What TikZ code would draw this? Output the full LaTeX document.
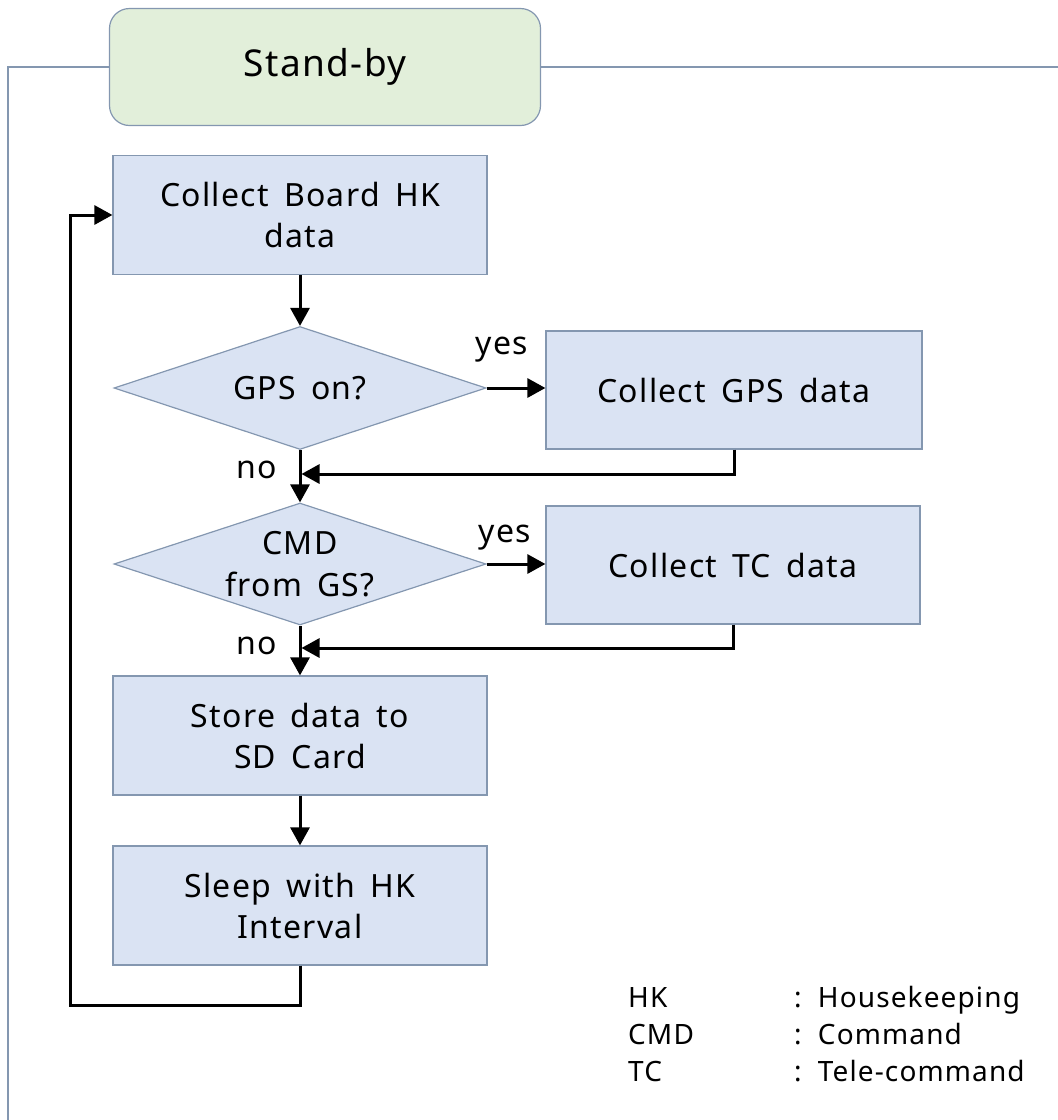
\documentclass[tikz,border=0pt]{standalone}
\usepackage{fontspec}
\setmainfont{Noto Sans}[LetterSpace=4,WordSpace=1.6]
\usetikzlibrary{shapes.geometric,arrows.meta}
\definecolor{boxfill}{HTML}{DAE3F3}
\definecolor{boxline}{HTML}{8497B0}
\definecolor{sbfill}{HTML}{E2EFDA}
\definecolor{frameline}{HTML}{8497B0}
\begin{document}
\begin{tikzpicture}[x=1pt,y=-1pt,
  proc/.style={rectangle, draw=boxline, fill=boxfill, line width=1.2pt, minimum width=374pt, minimum height=119pt, inner sep=0pt, align=center, font=\fontsize{32}{41}\selectfont},
  dec/.style={diamond, aspect=3, draw=boxline, fill=boxfill, line width=1.2pt, minimum width=372pt, minimum height=123pt, inner sep=0pt, align=center, font=\fontsize{32}{42}\selectfont},
  sbbox/.style={rectangle, rounded corners=20pt, draw=boxline, fill=sbfill, line width=1.2pt, minimum width=431pt, minimum height=117pt, inner sep=0pt, font=\fontsize{37}{44}\selectfont},
  conn/.style={line width=3pt, -{Triangle[length=18pt,width=19pt]}},
  framestyle/.style={draw=frameline, line width=1.2pt},
  lbl/.style={font=\fontsize{32}{36}\selectfont, inner sep=0pt},
  leg/.style={font=\fontsize{28}{32}\selectfont, anchor=base west, inner sep=0pt}]
\useasboundingbox (0,0) rectangle (1058,1120);

% stand-by header and frame
\node[sbbox] (sb) at (325,67) {Stand-by};
\coordinate (fl) at (8,67);
\coordinate (fb) at (8,1120);
\coordinate (fr) at (1058,67);
\draw[framestyle] (sb.west) -- (fl) -- (fb);
\draw[framestyle] (sb.east) -- (fr);

% process nodes
\node[proc] (board) at (300,215) {Collect Board HK\\data};
\node[dec]  (gps)   at (300,388) {\makebox[0pt]{GPS on?}};
\node[proc, minimum width=376pt, minimum height=118pt] (gpsbox) at (734,390) {Collect GPS data};
\node[dec, minimum height=122pt]  (cmd)   at (300,564) {\makebox[0pt]{CMD}\\\makebox[0pt]{from GS?}};
\node[proc, minimum width=374pt, minimum height=118pt] (tcbox) at (733,565) {Collect TC data};
\node[proc] (store) at (300,735.5) {Store data to\\SD Card};
\node[proc] (sleep) at (300,905.5) {Sleep with HK\\Interval};

% helper coordinates
\coordinate (j1) at (301.5,474);
\coordinate (j2) at (301.5,648);
\coordinate (lb) at (70,1005);

% connectors
\draw[conn] (board.south) -- (gps.north);
\draw[conn] (gps.east) -- (gpsbox.west |- gps.east);
\draw[conn] (gps.south) -- (cmd.north);
\draw[conn] (gpsbox.south) |- (j1);
\draw[conn] (cmd.east) -- (tcbox.west |- cmd.east);
\draw[conn] (cmd.south) -- (store.north);
\draw[conn] (tcbox.south) |- (j2);
\draw[conn] (store.south) -- (sleep.north);
\draw[conn] (sleep.south) |- (lb) |- (board.west);

% labels
\node[lbl] (y1) at (502,350) {yes};
\node[lbl] (n1) at (257,470) {no};
\node[lbl] (y2) at (505,538) {yes};
\node[lbl] (n2) at (257,646) {no};

% legend
\node[leg] (k1) at (628,1007) {HK};
\node[leg] (k2) at (628,1044) {CMD};
\node[leg] (k3) at (628,1081) {TC};
\node[leg] (v1) at (794,1007) {: Housekeeping};
\node[leg] (v2) at (794,1044) {: Command};
\node[leg] (v3) at (794,1081) {: Tele-command};
\end{tikzpicture}
\end{document}
